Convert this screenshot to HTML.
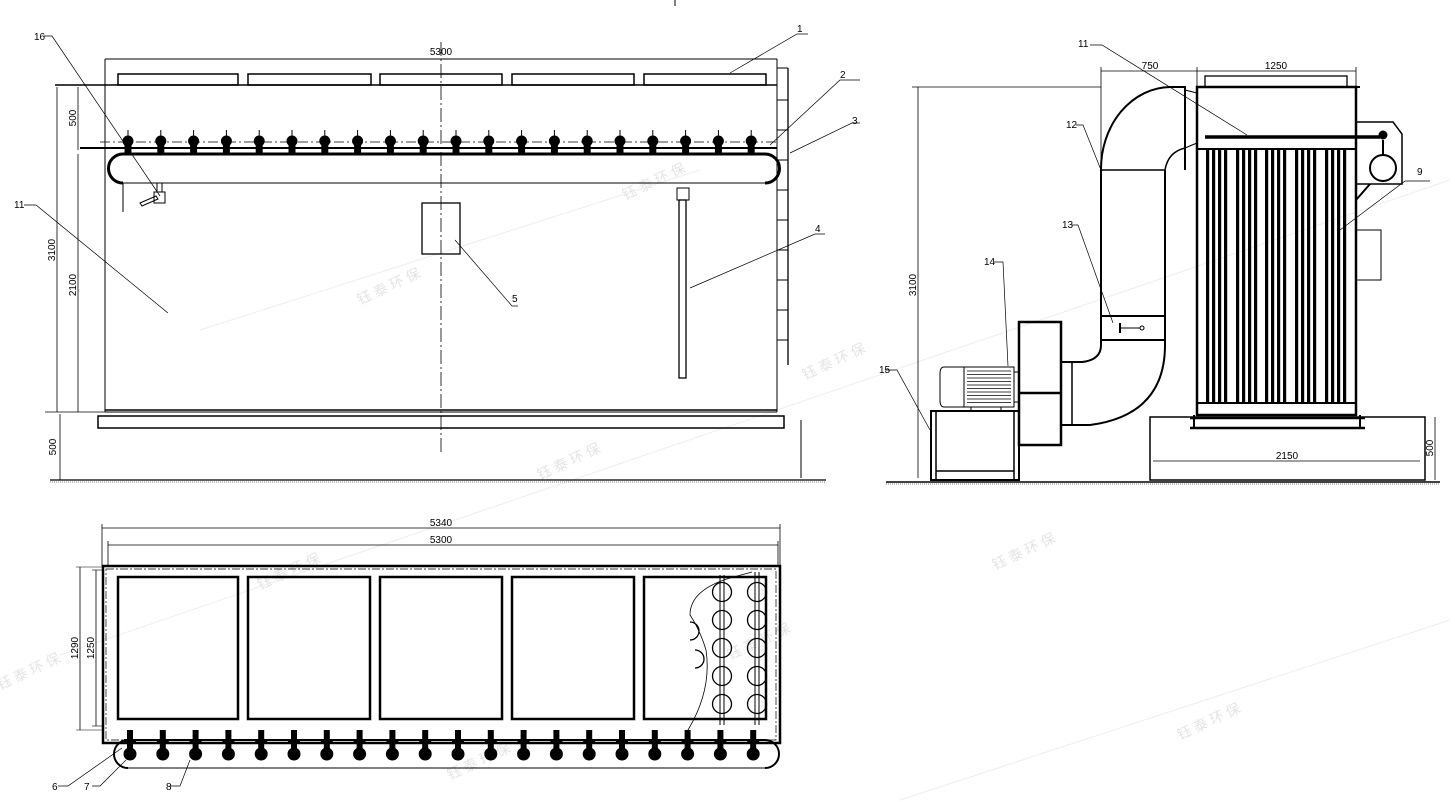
<!DOCTYPE html>
<html><head><meta charset="utf-8"><style>
html,body{margin:0;padding:0;background:#fff;}
svg{display:block;}
text{font-family:"Liberation Sans","Noto Sans CJK SC",sans-serif;font-size:10px;fill:#000;}
.wm{fill:#e4e4e4;font-size:14px;}
</style></head><body>
<svg id="s" width="1455" height="802" viewBox="0 0 1455 802" xmlns="http://www.w3.org/2000/svg" fill="none" stroke="#000" stroke-width="1">
<!-- watermarks -->
<g stroke="none">
<text class="wm" x="625" y="200" transform="rotate(-25 625 200)">钰 泰 环 保</text>
<text class="wm" x="360" y="305" transform="rotate(-25 360 305)">钰 泰 环 保</text>
<text class="wm" x="805" y="380" transform="rotate(-25 805 380)">钰 泰 环 保</text>
<text class="wm" x="540" y="480" transform="rotate(-25 540 480)">钰 泰 环 保</text>
<text class="wm" x="995" y="570" transform="rotate(-25 995 570)">钰 泰 环 保</text>
<text class="wm" x="260" y="590" transform="rotate(-25 260 590)">钰 泰 环 保</text>
<text class="wm" x="730" y="660" transform="rotate(-25 730 660)">钰 泰 环 保</text>
<text class="wm" x="0" y="690" transform="rotate(-25 0 690)">钰 泰 环 保</text>
<text class="wm" x="1180" y="740" transform="rotate(-25 1180 740)">钰 泰 环 保</text>
<text class="wm" x="450" y="780" transform="rotate(-25 450 780)">钰 泰 环 保</text>
</g>
<g stroke="#eee"><line x1="200" y1="330" x2="700" y2="170"/><line x1="60" y1="655" x2="1450" y2="180"/><line x1="900" y1="800" x2="1450" y2="620"/></g>

<!-- ===== FRONT VIEW ===== -->
<line x1="675" y1="0" x2="675" y2="6"/>
<line x1="105" y1="59" x2="777" y2="59"/>
<line x1="105" y1="59" x2="105" y2="412"/>
<line x1="777" y1="59" x2="777" y2="412"/>
<g stroke-width="1.5">
<rect x="118" y="74" width="120" height="11"/><rect x="248" y="74" width="123" height="11"/><rect x="380" y="74" width="122" height="11"/><rect x="512" y="74" width="122" height="11"/><rect x="644" y="74" width="122" height="11"/>
</g>
<line x1="55" y1="85" x2="777" y2="85" stroke-width="1.5"/>
<!-- ladder -->
<line x1="788" y1="68" x2="788" y2="365" stroke-width="1.3"/>
<line x1="777" y1="68" x2="788" y2="68"/>
<g id="rungs"></g>
<!-- pipe -->
<line x1="80" y1="148" x2="777" y2="148" stroke-width="2"/>
<line x1="123" y1="154" x2="765" y2="154" stroke-width="3"/>
<line x1="123" y1="183" x2="765" y2="183"/>
<path d="M123 154 A14.5 14.5 0 0 0 123 183" stroke-width="3"/>
<path d="M765 154 A14.5 14.5 0 0 1 765 183" stroke-width="3"/>
<line x1="123" y1="183" x2="123" y2="212"/>
<line x1="100" y1="142" x2="777" y2="142" stroke-dasharray="10 3 2 3" stroke-width="0.8"/>
<g id="nozF"></g>
<!-- item 16 -->
<rect x="154" y="192" width="11" height="11"/><line x1="157" y1="183" x2="157" y2="192"/><line x1="162" y1="183" x2="162" y2="192"/>
<path d="M140 203 L156 196 L158 199 L142 206 Z"/>
<!-- box 5 -->
<rect x="422" y="203" width="38" height="51" stroke-width="1.3"/>
<!-- pole 4 -->
<rect x="679" y="200" width="7" height="178" stroke-width="1.3"/>
<rect x="677" y="188" width="12" height="12"/>
<!-- center line -->
<line x1="441" y1="42" x2="441" y2="452" stroke-dasharray="14 3 2 3" stroke-width="0.8"/>
<!-- bottom -->
<line x1="105" y1="410" x2="777" y2="410" stroke-width="1.5"/>
<line x1="105" y1="412" x2="777" y2="412"/>
<rect x="98" y="416" width="686" height="12" stroke-width="1.5"/>
<line x1="801" y1="420" x2="801" y2="478"/>
<line x1="50" y1="480" x2="826" y2="480" stroke-width="1.3"/>
<line x1="50" y1="482" x2="826" y2="482" stroke-width="0.6" stroke-dasharray="1 1"/>
<!-- dims -->
<line x1="57" y1="87" x2="57" y2="412" stroke-width="0.8"/>
<line x1="78" y1="87" x2="78" y2="150" stroke-width="0.8"/>
<line x1="78" y1="154" x2="78" y2="412" stroke-width="0.8"/>
<line x1="60" y1="414" x2="60" y2="480" stroke-width="0.8"/>
<line x1="45" y1="412" x2="105" y2="412" stroke-width="0.8"/>
<g stroke="none">
<text x="441" y="55" text-anchor="middle">5300</text>
<text transform="translate(55 250) rotate(-90)" text-anchor="middle">3100</text>
<text transform="translate(76 285) rotate(-90)" text-anchor="middle">2100</text>
<text transform="translate(76 118) rotate(-90)" text-anchor="middle">500</text>
<text transform="translate(56 447) rotate(-90)" text-anchor="middle">500</text>
<text x="797" y="32">1</text><text x="840" y="78">2</text><text x="852" y="124">3</text><text x="815" y="232">4</text><text x="512" y="302">5</text><text x="14" y="208">11</text><text x="34" y="40">16</text>
</g>
<g stroke-width="0.7">
<polyline points="808,34 797,34 730,73"/>
<polyline points="860,80 840,80 770,145"/>
<polyline points="860,123 852,123 790,153"/>
<polyline points="825,234 815,234 690,288"/>
<polyline points="518,306 512,306 455,240"/>
<polyline points="24,205 36,205 168,313"/>
<polyline points="44,36 52,36 160,196"/>
</g>

<!-- ===== SIDE VIEW ===== -->
<line x1="886" y1="482" x2="1440" y2="482" stroke-width="1.5"/>
<line x1="886" y1="484" x2="1440" y2="484" stroke-width="0.6" stroke-dasharray="1 1"/>
<line x1="918" y1="87" x2="918" y2="478" stroke-width="0.8"/>
<line x1="912" y1="87" x2="1101" y2="87" stroke-width="0.8"/>
<!-- filter body -->
<rect x="1197" y="87" width="159" height="328" stroke-width="2.5"/>
<rect x="1205" y="76" width="142" height="11" stroke-width="1.3"/>
<line x1="1197" y1="87" x2="1360" y2="87" stroke-width="2"/>
<line x1="1197" y1="149" x2="1356" y2="149" stroke-width="2"/>
<line x1="1205" y1="137" x2="1380" y2="137" stroke-width="3.5"/>
<circle cx="1383" cy="135" r="4" fill="#000"/>
<g id="tubes"></g>
<line x1="1197" y1="403" x2="1356" y2="403" stroke-width="2"/>
<line x1="1190" y1="418" x2="1365" y2="418" stroke-width="2.5"/>
<line x1="1190" y1="428" x2="1365" y2="428" stroke-width="2.5"/>
<line x1="1194" y1="415" x2="1194" y2="428" stroke-width="2"/><line x1="1360" y1="415" x2="1360" y2="428" stroke-width="2"/>
<!-- header -->
<polyline points="1356,122 1393,122 1402,134 1402,184 1356,184" stroke-width="1.5"/>
<circle cx="1383" cy="168" r="13" stroke-width="2"/>
<line x1="1370" y1="184" x2="1356" y2="200" stroke-width="2"/>
<line x1="1383" y1="140" x2="1383" y2="155" stroke-width="2"/>
<rect x="1356" y="230" width="25" height="50"/>
<!-- duct -->
<path d="M1101 170 A70 82 0 0 1 1170 87 L1185 87 L1185 170" stroke-width="2"/>
<line x1="1101" y1="170" x2="1101" y2="316" stroke-width="2"/>
<path d="M1165 170 L1165 316" stroke-width="2"/>
<line x1="1101" y1="170" x2="1165" y2="170" stroke-width="1.5"/>
<line x1="1185" y1="90" x2="1197" y2="93"/><line x1="1185" y1="148" x2="1197" y2="143"/>
<path d="M1165 170 Q1168 152 1185 148" stroke-width="1.5"/>
<rect x="1101" y="316" width="64" height="24" stroke-width="2"/>
<line x1="1120" y1="323" x2="1120" y2="333" stroke-width="2"/><line x1="1120" y1="328" x2="1140" y2="328"/><circle cx="1142" cy="328" r="2"/>
<path d="M1101 340 L1101 345 Q1101 360 1082 362 L1060 362" stroke-width="2"/>
<path d="M1165 340 L1165 345 Q1165 415 1090 425 L1060 425" stroke-width="2"/>
<line x1="1072" y1="362" x2="1072" y2="425" stroke-width="1.5"/>
<!-- fan -->
<rect x="1019" y="322" width="42" height="123" stroke-width="2.5"/>
<line x1="1019" y1="393" x2="1061" y2="393" stroke-width="2.5"/>
<!-- motor -->
<path d="M944 367 L964 367 L964 407 L944 407 Q940 407 940 400 L940 374 Q940 367 944 367 Z"/>
<rect x="964" y="367" width="50" height="40"/>
<g id="fins"></g>
<line x1="1014" y1="372" x2="1019" y2="372"/><line x1="1014" y1="402" x2="1019" y2="402"/>
<rect x="971" y="407" width="30" height="4"/>
<!-- stand -->
<rect x="931" y="411" width="88" height="69" stroke-width="2"/>
<line x1="936" y1="411" x2="936" y2="480" stroke-width="1.5"/><line x1="1014" y1="411" x2="1014" y2="480" stroke-width="1.5"/>
<line x1="936" y1="471" x2="1014" y2="471" stroke-width="1.5"/>
<!-- base -->
<rect x="1150" y="417" width="275" height="63" stroke-width="1.5"/>
<line x1="1153" y1="461" x2="1420" y2="461" stroke-width="0.8"/>
<line x1="1435" y1="417" x2="1435" y2="480" stroke-width="0.8"/>
<line x1="1101" y1="71" x2="1356" y2="71" stroke-width="0.8"/>
<line x1="1101" y1="67" x2="1101" y2="170" stroke-width="0.8"/>
<line x1="1197" y1="67" x2="1197" y2="87" stroke-width="0.8"/>
<line x1="1356" y1="67" x2="1356" y2="87" stroke-width="0.8"/>
<g stroke="none">
<text x="1150" y="69" text-anchor="middle">750</text>
<text x="1276" y="69" text-anchor="middle">1250</text>
<text transform="translate(916 285) rotate(-90)" text-anchor="middle">3100</text>
<text x="1287" y="459" text-anchor="middle">2150</text>
<text transform="translate(1433 448) rotate(-90)" text-anchor="middle">500</text>
<text x="1078" y="47">11</text><text x="1066" y="128">12</text><text x="1062" y="228">13</text><text x="984" y="265">14</text><text x="879" y="373">15</text><text x="1417" y="175">9</text>
</g>
<g stroke-width="0.7">
<polyline points="1090,45 1102,45 1247,135"/>
<polyline points="1076,125 1083,125 1101,170"/>
<polyline points="1072,225 1078,225 1113,323"/>
<polyline points="994,262 1003,262 1008,366"/>
<polyline points="885,370 897,370 930,430"/>
<polyline points="1430,181 1405,181 1340,230"/>
</g>

<!-- ===== PLAN VIEW ===== -->
<line x1="102" y1="528" x2="780" y2="528" stroke-width="0.8"/>
<line x1="108" y1="545" x2="778" y2="545" stroke-width="0.8"/>
<line x1="102" y1="524" x2="102" y2="566" stroke-width="0.8"/><line x1="780" y1="524" x2="780" y2="566" stroke-width="0.8"/>
<line x1="108" y1="541" x2="108" y2="566" stroke-width="0.8"/><line x1="778" y1="541" x2="778" y2="566" stroke-width="0.8"/>
<rect x="103" y="566" width="677" height="177" stroke-width="2.5"/>
<rect x="106" y="569" width="670" height="171" stroke-width="0.7" stroke-dasharray="8 2 2 2"/>
<g stroke-width="2.5">
<rect x="118" y="577" width="120" height="142"/><rect x="248" y="577" width="122" height="142"/><rect x="380" y="577" width="122" height="142"/><rect x="512" y="577" width="122" height="142"/><rect x="644" y="577" width="122" height="142"/>
</g>
<g id="circ"></g>
<line x1="720" y1="575" x2="720" y2="725"/><line x1="724" y1="575" x2="724" y2="725"/>
<line x1="755" y1="572" x2="755" y2="725"/><line x1="759" y1="572" x2="759" y2="725"/>
<path d="M688 730 Q712 690 706 650 Q700 630 690 615 Q690 590 730 578 L752 572" stroke-width="0.8"/>
<line x1="80" y1="567" x2="80" y2="730" stroke-width="0.8"/>
<line x1="96" y1="570" x2="96" y2="726" stroke-width="0.8"/>
<line x1="76" y1="567" x2="103" y2="567" stroke-width="0.6"/>
<line x1="76" y1="730" x2="103" y2="730" stroke-width="0.6"/>
<line x1="92" y1="570" x2="103" y2="570" stroke-width="0.6"/>
<line x1="92" y1="726" x2="103" y2="726" stroke-width="0.6"/>
<line x1="128" y1="740" x2="765" y2="740" stroke-width="2"/>
<line x1="128" y1="768" x2="768" y2="768"/>
<path d="M128 740 A14 14 0 0 0 128 768" stroke-width="2"/>
<path d="M765 740 A14 14 0 0 1 765 768" stroke-width="2"/>
<g id="nozP"></g>
<g stroke="none">
<text x="441" y="526" text-anchor="middle">5340</text>
<text x="441" y="543" text-anchor="middle">5300</text>
<text transform="translate(78 648) rotate(-90)" text-anchor="middle">1290</text>
<text transform="translate(94 648) rotate(-90)" text-anchor="middle">1250</text>
<text x="52" y="790">6</text><text x="84" y="790">7</text><text x="166" y="790">8</text>
</g>
<g stroke-width="0.7">
<polyline points="58,786 68,786 122,748"/>
<polyline points="92,786 100,786 126,760"/>
<polyline points="170,786 180,786 190,760"/>
</g>
</svg>
<script>
var NS="http://www.w3.org/2000/svg";
function el(p,t,a){var e=document.createElementNS(NS,t);for(var k in a)e.setAttribute(k,a[k]);document.getElementById(p).appendChild(e);return e;}
for(var y=100;y<=350;y+=30){el("rungs","line",{x1:777,y1:y,x2:788,y2:y});}
for(var i=0;i<20;i++){
 var x=128+i*32.8;
 el("nozF","line",{x1:x,y1:130,x2:x,y2:136});
 el("nozF","circle",{cx:x,cy:141,r:5,fill:"#000"});
 el("nozF","rect",{x:x-3.5,y:144,width:7,height:10,fill:"#000",stroke:"none"});
 var xp=130+i*32.8;
 el("nozP","rect",{x:xp-3,y:730,width:6,height:20,fill:"#000",stroke:"none"});
 el("nozP","rect",{x:xp-6,y:739,width:12,height:3,fill:"#000",stroke:"none"});
 el("nozP","circle",{cx:xp,cy:754,r:6,fill:"#000"});
}
var gx=[1206,1236,1265,1295,1325];
gx.forEach(function(g){for(var j=0;j<4;j++){el("tubes","rect",{x:g+j*6,y:150,width:3.2,height:252,fill:"#000",stroke:"none"});}});
for(var k=0;k<10;k++){el("fins","line",{x1:967,y1:371+k*3.5,x2:1011,y2:371+k*3.5,"stroke-width":0.7});}
[722,757].forEach(function(cx){for(var r=0;r<5;r++){el("circ","circle",{cx:cx,cy:592+r*28,r:9.5,"stroke-width":1.3});}});
el("circ","path",{d:"M690 622 A9 9 0 0 1 690 640","stroke-width":1.3});
el("circ","path",{d:"M695 650 A9 9 0 0 1 695 668","stroke-width":1.3});
</script>
</body></html>
